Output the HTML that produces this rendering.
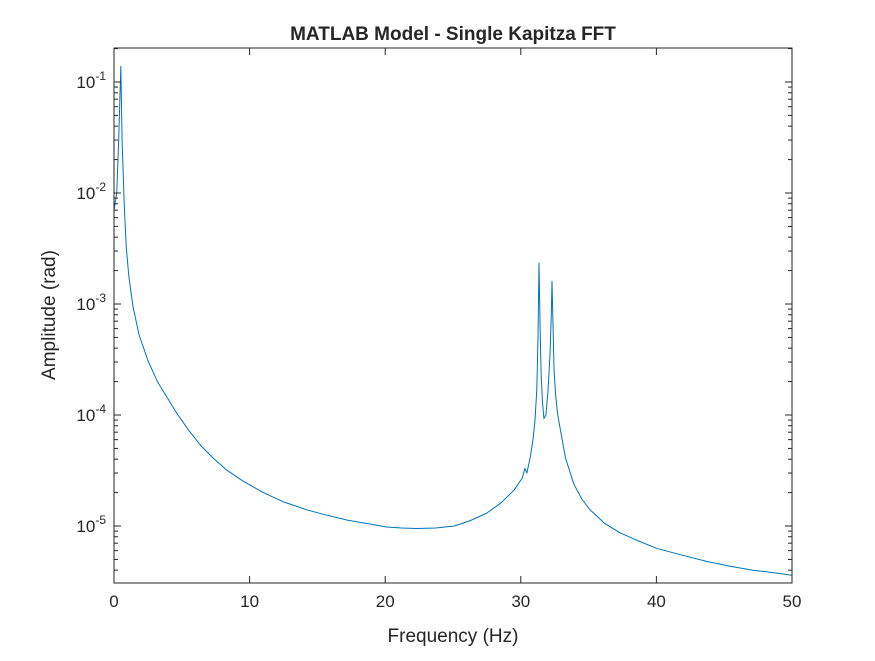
<!DOCTYPE html>
<html><head><meta charset="utf-8"><style>
body{margin:0;background:#fff;}
svg text{font-family:"Liberation Sans",sans-serif;fill:#262626;}
</style></head><body>
<svg id="chart" width="875" height="656" xmlns="http://www.w3.org/2000/svg">
<rect width="875" height="656" fill="#fff"/>
<rect x="114" y="48" width="678" height="535" fill="#fff" stroke="none"/>
<path id="series" fill="none" stroke="#0072BD" stroke-width="1" stroke-linejoin="round"/>
<rect x="114" y="48" width="678" height="535" fill="none" stroke="#262626" stroke-width="1"/>
<g id="ticks"></g>
<text x="453" y="40" text-anchor="middle" font-size="19" font-weight="bold">MATLAB Model - Single Kapitza FFT</text>
<text x="453" y="642" text-anchor="middle" font-size="19">Frequency (Hz)</text>
<text transform="translate(55,315) rotate(-90)" text-anchor="middle" font-size="19">Amplitude (rad)</text>
</svg>
<script>
const freqs=[0,0.2,0.35,0.5,0.6,0.75,0.9,1.1,1.4,1.84,2.5,3.2,3.9,4.6,5.5,6.4,7.3,8.3,9.5,11,12.5,14.2,15.7,17.2,18.7,20.1,21.2,22.3,23.7,25.1,26.3,27.5,28.5,29.5,30.1,30.3,30.45,30.7,30.9,31.05,31.18,31.27,31.34,31.42,31.5,31.6,31.7,31.85,32.0,32.15,32.25,32.3,32.38,32.45,32.55,32.7,32.9,33.3,33.9,34.5,35.1,36.2,37.3,38.6,40,41.8,43.7,45.4,47.1,48.6,50];
const amps=[7e-3,1e-2,3e-2,0.138,3e-2,8e-3,3.3e-3,1.75e-3,9.5e-4,5.3e-4,3.1e-4,2.0e-4,1.45e-4,1.05e-4,7.3e-5,5.3e-5,4.1e-5,3.2e-5,2.55e-5,2e-5,1.65e-5,1.4e-5,1.25e-5,1.13e-5,1.05e-5,9.8e-6,9.6e-6,9.5e-6,9.6e-6,1.0e-5,1.12e-5,1.31e-5,1.6e-5,2.1e-5,2.7e-5,3.3e-5,3e-5,4.2e-5,6e-5,9e-5,1.7e-4,5e-4,2.34e-3,6e-4,2.4e-4,1.3e-4,9.3e-5,1.0e-4,1.6e-4,3.5e-4,8e-4,1.6e-3,6e-4,2.6e-4,1.6e-4,1.05e-4,7.6e-5,4.1e-5,2.4e-5,1.75e-5,1.4e-5,1.05e-5,8.7e-6,7.4e-6,6.3e-6,5.5e-6,4.8e-6,4.35e-6,4e-6,3.8e-6,3.6e-6];
const xTicks=[0,10,20,30,40,50];
const yTickExps=[-5,-4,-3,-2,-1];
const X0=114,X1=792,Y0=48,Y1=583,XMIN=0,XMAX=50;
const DEC=111, YREF=82;
const xs=v=>X0+(v-XMIN)/(XMAX-XMIN)*(X1-X0);
const ys=v=>YREF+(-1-Math.log10(v))*DEC;
const ns="http://www.w3.org/2000/svg";
let d="";
freqs.forEach((f,i)=>{d+=(i?"L":"M")+xs(f).toFixed(1)+","+ys(amps[i]).toFixed(1);});
document.getElementById("series").setAttribute("d",d);
const tg=document.getElementById("ticks");
function line(x1,y1,x2,y2){const l=document.createElementNS(ns,"line");l.setAttribute("x1",x1);l.setAttribute("y1",y1);l.setAttribute("x2",x2);l.setAttribute("y2",y2);l.setAttribute("stroke","#262626");l.setAttribute("stroke-width","1");


tg.appendChild(l);}
xTicks.forEach(t=>{const x=xs(t);line(x,Y1,x,Y1-7);line(x,Y0,x,Y0+7);
const tx=document.createElementNS(ns,"text");tx.setAttribute("x",x);tx.setAttribute("y",Y1+24);tx.setAttribute("text-anchor","middle");tx.setAttribute("font-size","17");tx.textContent=t;


tg.appendChild(tx);});
for(let e=-6;e<=-1;e++){for(let m=1;m<10;m++){const v=m*Math.pow(10,e);const y=ys(v);if(y<Y0||y>Y1)continue;const len=m===1?7:4;line(X0,y,X0+len,y);line(X1,y,X1-len,y);}}
yTickExps.forEach(e=>{const y=ys(Math.pow(10,e));
const tx=document.createElementNS(ns,"text");tx.setAttribute("x",X0-8);tx.setAttribute("y",y+6);tx.setAttribute("text-anchor","end");tx.setAttribute("font-size","17");
tx.innerHTML='10<tspan dy="-8" font-size="12">'+e+'</tspan>';


tg.appendChild(tx);});
</script>
</body></html>
